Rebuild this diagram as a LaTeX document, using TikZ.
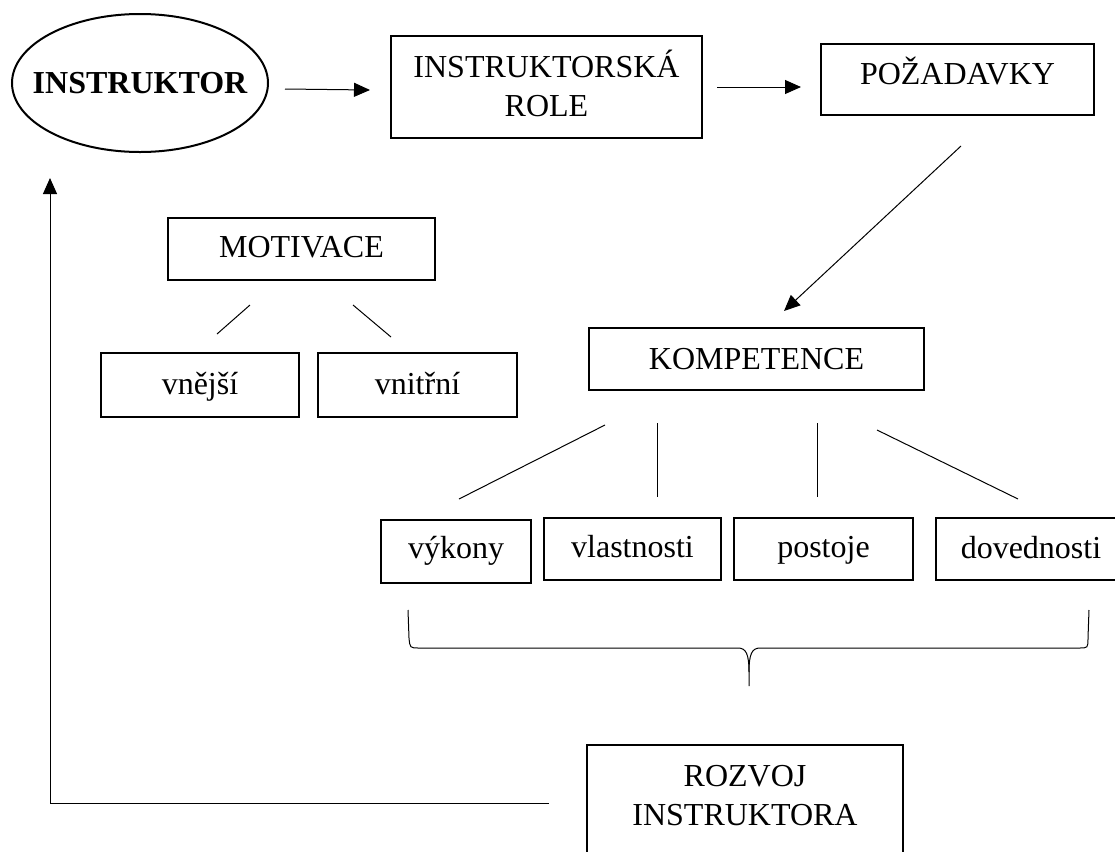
\documentclass[tikz,border=0pt]{standalone}
\usepackage{fontspec}
\setmainfont{Liberation Serif}
\usetikzlibrary{arrows.meta,shapes,positioning,calc}
\tikzset{
    basic/.style = {draw, rectangle, line width=1pt, inner xsep=0pt, inner ysep=0pt, font=\fontsize{16pt}{19.5pt}\selectfont},
    oval/.style  = {basic, ellipse, inner xsep=-10pt, minimum width=128pt, minimum height=69pt, font=\fontsize{16pt}{19.5pt}\selectfont\bfseries},
    box/.style   = {basic, anchor=north west},
    two line/.style = {box, align=center},
    link/.style  = {line width=0.5pt}
}
\begin{document}
\begin{tikzpicture}[x=0.5pt, y=-0.5pt, >={Triangle[length=8pt,width=7pt]}]
    \path[fill=white, use as bounding box] (0,0) rectangle (1115,852);
    \clip (0,0) rectangle (1115,852);
    % top row
    \node[oval] (instruktor) at (140,83) {INSTRUKTOR};
    \node[two line, minimum width=155.5pt, text height=40pt, text depth=11pt] (role) at (390,35) {INSTRUKTORSKÁ\\ROLE};
    \node[box, minimum width=136.5pt, text height=20pt, text depth=15.5pt] (pozadavky) at (820,43) {POŽADAVKY};
    % motivace
    \node[box, minimum width=133.5pt, text height=19.5pt, text depth=11.5pt] (motivace) at (167,217) {MOTIVACE};
    \node[box, minimum width=99pt, text height=20.5pt, text depth=11.5pt] (vnejsi) at (100,352) {vnější};
    \node[box, minimum width=99.5pt, text height=20.5pt, text depth=11.5pt] (vnitrni) at (317,352) {vnitřní};
    % kompetence
    \node[box, minimum width=167.5pt, text height=20.5pt, text depth=10.5pt] (kompetence) at (588,327) {KOMPETENCE};
    \node[box, minimum width=75pt, text height=19pt, text depth=12.5pt] (vykony) at (380,519) {výkony};
    \node[box, minimum width=88.5pt, text height=19.5pt, text depth=11.5pt] (vlastnosti) at (543,517) {vlastnosti};
    \node[box, minimum width=89.5pt, text height=19.5pt, text depth=11.5pt] (postoje) at (733,517) {postoje};
    \node[box, minimum width=105pt, text height=20pt, text depth=11pt] (dovednosti) at (935,517) {dovednosti\hspace*{10pt}};
    \node[two line, minimum width=158pt, text height=40pt, text depth=18pt] (rozvoj) at (586,744) {ROZVOJ\\INSTRUKTORA};

    % arrows
    \draw[link,->] ($(instruktor.east)+(16,6)$) -- ($(role.west)+(-20,3)$);
    \draw[link,->] ($(role.east)+(14,0)$) -- ($(pozadavky.west)+(-19,7.5)$);
    \draw[link,->] ($(pozadavky.south)+(3.5,30)$) -- ($(kompetence.north)+(27.5,-16)$);
    \draw[link,->] ($(rozvoj.west)+(-37,0)$) -| ($(instruktor.south)+(-90,25)$);

    % plain lines
    \draw[link] ($(motivace.south)+(-51.5,24)$) -- ($(vnejsi.north)+(17,-18)$);
    \draw[link] ($(motivace.south)+(51.5,24)$) -- ($(vnitrni.north)+(-26.5,-15)$);
    \draw[link] ($(kompetence.south)+(-151.5,34)$) -- ($(vykony.north)+(3,-20)$);
    \draw[link] ($(kompetence.south)+(-99.5,32)$) -- ($(vlastnosti.north)+(24.5,-20)$);
    \draw[link] ($(kompetence.south)+(60.5,32)$) -- ($(postoje.north)+(-6.5,-20)$);
    \draw[link] ($(kompetence.south)+(120.5,39)$) -- ($(dovednosti.north)+(-23,-18)$);

    % brace
    \draw[link] (408,610) -- (409,638) .. controls (410,648) .. (419,648) -- (738,648)
        .. controls (746,648) and (749,654) .. (749,672) -- (749,686);
    \draw[link] (749,672) .. controls (749,654) and (752,648) .. (760,648) -- (1079,648)
        .. controls (1088,648) .. (1088,638) -- (1089,610);
\end{tikzpicture}
\end{document}
